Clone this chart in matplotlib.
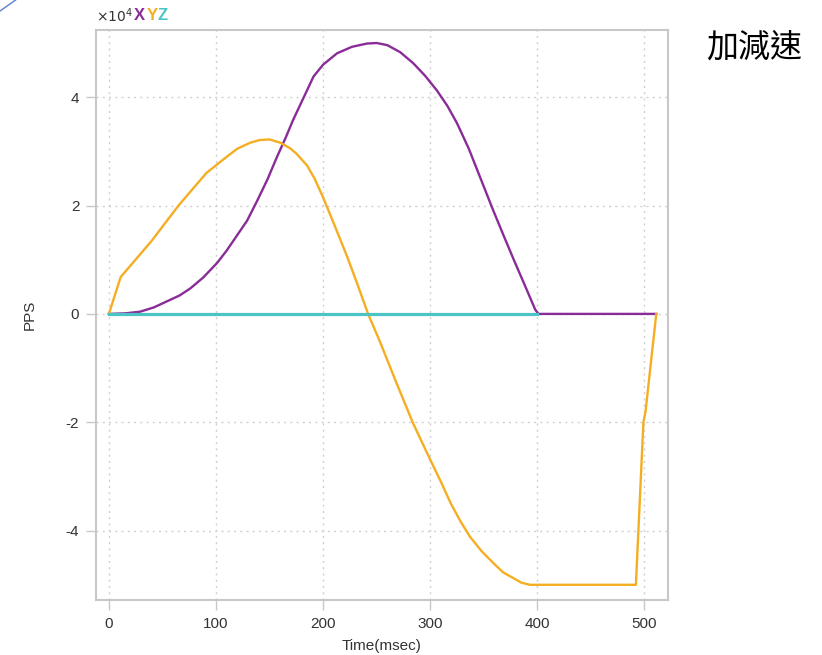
import matplotlib.pyplot as plt
import matplotlib.lines as mlines

# X 軸 (purple), values in units of 1e4 PPS
x_time = [0, 15, 29, 42, 54, 66, 76, 88, 101, 110, 119, 129, 138, 148, 157, 165, 172, 182, 191,
          200, 213, 227, 241, 250, 260, 272, 284, 295, 306, 316, 325, 336, 347, 358, 368, 378,
          390, 398, 401, 511]
x_pps = [0, 0.01, 0.04, 0.12, 0.23, 0.34, 0.47, 0.67, 0.94, 1.17, 1.43, 1.72, 2.07, 2.48, 2.9, 3.25,
         3.58, 4.0, 4.38, 4.6, 4.81, 4.93, 4.99, 5.0, 4.96, 4.83, 4.63, 4.4, 4.13, 3.84, 3.52, 3.05,
         2.5, 1.95, 1.47, 1.0, 0.45, 0.08, 0.0, 0.0]

# Y 軸 (orange)
y_time = [0, 11, 40, 65, 91, 110, 120, 132, 141, 150, 160, 169, 175, 185, 192, 200, 211, 222, 232,
          242, 253, 268, 284, 300, 310, 319, 328, 337, 348, 359, 368, 378, 385, 393, 492, 499, 501, 511]
y_pps = [0, 0.68, 1.35, 2.0, 2.6, 2.9, 3.05, 3.16, 3.21, 3.22, 3.16, 3.06, 2.96, 2.74, 2.5, 2.15,
         1.62, 1.08, 0.55, 0.0, -0.51, -1.25, -2.02, -2.69, -3.1, -3.49, -3.82, -4.11, -4.38, -4.6,
         -4.77, -4.88, -4.96, -5.0, -5.0, -2.0, -1.8, 0.0]

# Z 軸 (cyan)
z_time = [0, 100, 200, 300, 400]
z_pps = [0, 0, 0, 0, 0]

x_ticks = [0, 100, 200, 300, 400, 500]
y_ticks = [-4, -2, 0, 2, 4]

c_x = '#8a2c98'
c_y = '#f5ae22'
c_z = '#4cc3c4'

plt.rcParams['font.family'] = ['Liberation Sans', 'DejaVu Sans']

fig = plt.figure(figsize=(8.22, 6.55), dpi=100)
ax = fig.add_axes([0.1168, 0.084, 0.6959, 0.8702])

ax.plot(x_time, x_pps, color=c_x, linewidth=1.7, zorder=3)
ax.plot(y_time, y_pps, color=c_y, linewidth=1.7, zorder=3)
ax.plot(z_time, z_pps, color=c_z, linewidth=2.3, zorder=4)

ax.set_xlim(-12, 522)
ax.set_ylim(-5.28, 5.24)
ax.set_xticks(x_ticks)
ax.set_yticks(y_ticks)
ax.set_yticklabels(['-4', '-2', '0', '2', '4'])

ax.grid(True, linestyle=(0, (1.5, 3)), color='#d0d0d0', linewidth=1)
ax.set_axisbelow(True)
for s in ax.spines.values():
    s.set_color('#c8c8c8')
    s.set_linewidth(1.5)
ax.tick_params(direction='out', length=7, width=1, color='#c8c8c8',
               labelsize=11, labelcolor='#333333', pad=5)
ax.tick_params(axis='x', pad=5)

ax.set_xlabel('Time(msec)', fontsize=11, color='#333333')
ax.set_ylabel('PPS', fontsize=11, color='#333333')
ax.xaxis.set_label_coords(0.5, -0.08)
ax.yaxis.set_label_coords(-0.115, 0.5)
ax.xaxis.label.set_va('center')
ax.yaxis.label.set_va('center')

# multiplier and colored legend letters
fig.text(0.117, 0.962, r'$\times 10^4$', fontsize=10, color='#333333', va='bottom')
fig.text(0.163, 0.965, 'X', fontsize=12, color=c_x, fontweight='bold', va='bottom')
fig.text(0.178, 0.965, 'Y', fontsize=12, color=c_y, fontweight='bold', va='bottom')
fig.text(0.191, 0.965, 'Z', fontsize=12, color=c_z, fontweight='bold', va='bottom')

fig.text(0.859, 0.927, '加減速', fontsize=23, color='black', va='center',
         family=['Noto Sans CJK TC', 'DejaVu Sans'])

# decorative slide line top-left
fig.add_artist(mlines.Line2D([0, 0.019], [1 - 11 / 655, 1.0], color='#5b7fd0',
                             linewidth=1, transform=fig.transFigure))

fig.savefig('out.png', dpi=100)
